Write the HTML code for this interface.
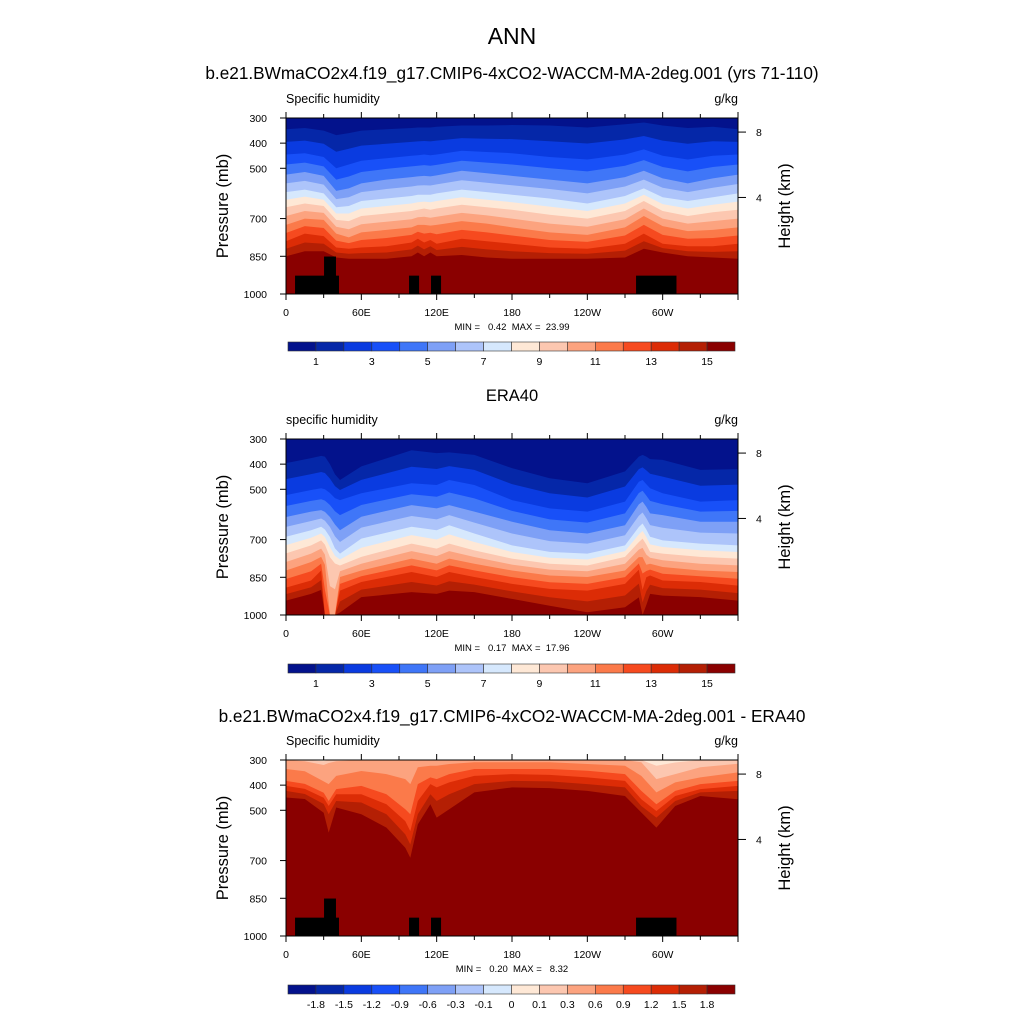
<!DOCTYPE html>
<html><head><meta charset="utf-8"><style>
html,body{margin:0;padding:0;background:#fff;}
svg{display:block;font-family:"Liberation Sans",sans-serif;}
</style></head><body>
<svg id="chart" width="1024" height="1024" viewBox="0 0 1024 1024" xmlns="http://www.w3.org/2000/svg">
<rect x="0" y="0" width="1024" height="1024" fill="#fff"/>
<text x="512" y="44" font-size="23" text-anchor="middle">ANN</text>
<text x="512" y="79" font-size="17.2" text-anchor="middle">b.e21.BWmaCO2x4.f19_g17.CMIP6-4xCO2-WACCM-MA-2deg.001 (yrs 71-110)</text>
<text x="512" y="401" font-size="16.5" text-anchor="middle">ERA40</text>
<text x="512" y="722" font-size="17.2" text-anchor="middle">b.e21.BWmaCO2x4.f19_g17.CMIP6-4xCO2-WACCM-MA-2deg.001 - ERA40</text>
<g id="panels"></g>
</svg>
<script>
// ---- data ----
const colors=["#03128c","#0527a8","#0a3be0","#1850f8","#3f76f8","#7ea0f6","#adc4fa","#d6e8fd","#fee8d6","#fcc7b0","#fca37f","#fb7a4a","#f64a1f","#dc2c06","#b41f04","#8a0000"];
const levelLabelsQ=["1","","3","","5","","7","","9","","11","","13","","15"];
const levelLabelsD=["-1.8","-1.5","-1.2","-0.9","-0.6","-0.3","-0.1","0","0.1","0.3","0.6","0.9","1.2","1.5","1.8"];
const lonTicks=[0,60,120,180,240,300];
const lonTickLabels=["0","60E","120E","180","120W","60W"];
const presTicks=[300,400,500,700,850,1000];
const heightTicksKm=[8,4];
const heightTickP=[356,616];

// Panel 1 (model) boundary pressures, odd levels + 15
const LON1=[0,15,30,40,50,60,80,100,105,110,115,120,140,160,180,210,240,270,285,300,320,340,360];
const P1_K1=[345,340,350,368,360,350,345,340,338,338,338,335,330,330,328,330,338,325,318,330,340,335,345];
const P1_K3=[445,440,455,500,485,470,460,450,448,445,448,445,430,435,440,455,465,445,425,450,465,450,445];
const P1_K5=[525,515,530,590,580,560,545,535,532,530,532,528,510,520,530,545,560,535,510,540,560,540,525];
const P1_K7=[595,585,600,655,650,630,620,610,605,605,605,600,585,595,605,620,640,610,580,615,630,615,600];
const P1_K9=[655,640,650,705,710,690,680,670,665,660,665,660,645,655,665,685,700,670,630,670,690,675,665];
const P1_K11=[725,700,705,760,775,755,745,735,725,725,728,725,710,720,735,755,765,735,690,730,750,745,735];
const P1_K13=[790,760,770,815,820,815,810,795,780,795,785,800,780,790,800,815,820,800,760,800,810,810,800];
const P1_K15=[850,830,830,855,860,860,860,850,835,850,835,850,845,855,860,860,860,855,820,835,850,855,860];

// Panel 2 (ERA40)
const LON2=[0,20,28,31,35,39,43,60,100,120,130,150,180,210,240,270,281,284,287,290,300,330,360];
const P2_K1=[396,376,367,370,400,440,463,409,345,356,353,363,416,456,476,429,370,363,370,380,383,423,420];
const P2_K3=[523,503,496,500,515,535,543,516,476,483,463,483,543,576,589,549,470,463,480,496,516,549,543];
const P2_K5=[610,589,583,590,610,640,663,609,563,576,563,589,629,663,676,643,560,549,570,596,603,629,629];
const P2_K7=[689,663,649,660,690,735,756,696,649,663,643,676,723,749,756,723,650,636,660,689,703,716,723];
const P2_K9=[755,723,703,720,770,795,803,769,716,736,716,743,776,796,803,769,710,696,720,749,756,769,776];
const P2_K11=[823,789,769,800,1000,1000,849,823,776,796,776,796,823,843,849,823,770,770,800,796,809,823,829];
const P2_K13=[891,863,823,1000,1000,1000,903,869,829,849,829,849,876,896,903,876,820,900,850,843,863,869,883];
const P2_K15=[943,916,900,1000,1000,1000,990,929,909,916,903,909,936,963,989,969,930,1000,960,916,923,929,943];

// Panel 3 (difference), levels 9..15
const LON3=[0,15,30,34,40,60,80,95,99,105,115,120,130,150,180,210,240,270,283,295,310,330,360];
const P3_K9=[300,300,305,300,300,300,300,300,300,300,300,300,300,300,300,300,300,300,300,323,310,300,300];
const P3_K10=[300,305,320,312,305,300,300,300,300,300,300,300,300,300,300,300,300,300,309,376,356,329,315];
const P3_K11=[336,345,385,396,363,344,356,376,396,329,323,323,316,309,309,309,316,323,363,429,389,369,349];
const P3_K12=[383,395,430,463,416,403,436,496,516,396,369,376,356,336,336,336,343,356,423,476,423,396,383];
const P3_K13=[403,415,450,483,436,436,476,543,583,463,396,409,389,363,356,359,369,383,456,503,443,416,403];
const P3_K14=[423,435,475,516,463,469,516,596,636,516,436,463,436,396,383,385,396,409,483,529,463,429,423];
const P3_K15=[449,455,510,589,489,516,569,649,689,556,476,529,496,429,409,412,423,443,509,569,483,443,456];

// Terrain mask (black boxes)
const terrainLonStart=[7.2,30.3,98,115.5,278.8];
const terrainLonEnd=[42.2,39.8,106,123.5,311];
const terrainTopP=[927,851,927,927,927];

// ---- drawing ----
const NS="http://www.w3.org/2000/svg";
const root=document.getElementById('panels');
const PX=286,PW=452,PH=176;
function mk(tag,attrs,parent){const e=document.createElementNS(NS,tag);for(const k in attrs)e.setAttribute(k,attrs[k]);(parent||root).appendChild(e);return e;}
function avg(a,b){return a.map((v,i)=>(v+b[i])/2);}
function buildOdd(k1,k3,k5,k7,k9,k11,k13,k15){
  const b={1:k1,3:k3,5:k5,7:k7,9:k9,11:k11,13:k13,15:k15};
  for(let k=2;k<=14;k+=2)b[k]=avg(b[k-1],b[k+1]);
  return b;
}
const panels=[
 {top:118,lon:LON1,b:buildOdd(P1_K1,P1_K3,P1_K5,P1_K7,P1_K9,P1_K11,P1_K13,P1_K15),terrain:true,left:"Specific humidity",minmax:"MIN =   0.42  MAX =  23.99",cb:342,labels:levelLabelsQ,name:"model"},
 {top:439,lon:LON2,b:buildOdd(P2_K1,P2_K3,P2_K5,P2_K7,P2_K9,P2_K11,P2_K13,P2_K15),terrain:false,left:"specific humidity",minmax:"MIN =   0.17  MAX =  17.96",cb:664,labels:levelLabelsQ,name:"era40"},
 {top:760,lon:LON3,b:{9:P3_K9,10:P3_K10,11:P3_K11,12:P3_K12,13:P3_K13,14:P3_K14,15:P3_K15},terrain:true,left:"Specific humidity",minmax:"MIN =   0.20  MAX =   8.32",cb:985,labels:levelLabelsD,name:"difference"}
];
panels.forEach((P,pi)=>{
  const Y0=P.top;
  const x=l=>PX+l/360*PW;
  const y=p=>Y0+(Math.min(Math.max(p,300),1000)-300)/700*PH;
  const g=mk('g',{});
  
  
  const clipId='clip'+pi;
  const cp=mk('clipPath',{id:clipId},g);
  mk('rect',{x:PX,y:Y0,width:PW,height:PH},cp);
  const plot=mk('g',{'clip-path':'url(#'+clipId+')'},g);
  const bg=mk('rect',{x:PX,y:Y0,width:PW,height:PH,fill:colors[15]},plot);
  
  
  for(let k=15;k>=1;k--){
    const arr=P.b[k]; if(!arr)continue;
    let d='M'+x(0)+','+(Y0-1);
    P.lon.forEach((l,i)=>{d+=' L'+x(l).toFixed(2)+','+y(arr[i]).toFixed(2);});
    d+=' L'+x(360)+','+(Y0-1)+' Z';
    const path=mk('path',{d:d,fill:colors[k-1]},plot);
    
    
  }
  if(P.terrain){
    terrainLonStart.forEach((s,i)=>{
      const r=mk('rect',{x:x(s),y:y(terrainTopP[i]),width:x(terrainLonEnd[i])-x(s),height:Y0+PH-y(terrainTopP[i]),fill:'#000'},plot);
      
      
    });
  }
  const fr=mk('rect',{x:PX,y:Y0,width:PW,height:PH,fill:'none',stroke:'#000','stroke-width':1},g);
  
  
  for(let l=0;l<=360;l+=30){
    const len=(l%60===0)?6:4;
    mk('line',{x1:x(l),x2:x(l),y1:Y0+PH,y2:Y0+PH+len,stroke:'#000','stroke-width':1},g);
    mk('line',{x1:x(l),x2:x(l),y1:Y0,y2:Y0-len,stroke:'#000','stroke-width':1},g);
  }
  lonTicks.forEach((l,i)=>{
    const t=mk('text',{x:x(l),y:Y0+PH+22,'font-size':10.5,'text-anchor':'middle'},g);
    t.textContent=lonTickLabels[i];
    
    
  });
  presTicks.forEach(p=>{
    mk('line',{x1:PX-6,x2:PX,y1:y(p),y2:y(p),stroke:'#000','stroke-width':1},g);
    const t=mk('text',{x:PX-19,y:y(p)+4,'font-size':10.5,'text-anchor':'end'},g);
    t.textContent=p;
    
    
  });
  heightTicksKm.forEach((h,i)=>{
    mk('line',{x1:PX+PW,x2:PX+PW+8,y1:y(heightTickP[i]),y2:y(heightTickP[i]),stroke:'#000','stroke-width':1},g);
    const t=mk('text',{x:PX+PW+18,y:y(heightTickP[i])+4,'font-size':10.5},g);
    t.textContent=h;
    
    
  });
  const yl=mk('text',{x:0,y:0,'font-size':16.5,'text-anchor':'middle',transform:'translate(228,'+(Y0+PH/2)+') rotate(-90)'},g);
  yl.textContent='Pressure (mb)';
  
  
  const hl=mk('text',{x:0,y:0,'font-size':16.5,'text-anchor':'middle',transform:'translate(790,'+(Y0+PH/2)+') rotate(-90)'},g);
  hl.textContent='Height (km)';
  
  
  const lt=mk('text',{x:PX,y:Y0-15,'font-size':12.5},g);
  lt.textContent=P.left;
  
  
  const ut=mk('text',{x:PX+PW,y:Y0-15,'font-size':12.5,'text-anchor':'end'},g);
  ut.textContent='g/kg';
  
  
  const mm=mk('text',{x:512,y:Y0+PH+36,'font-size':9.5,'text-anchor':'middle',style:'white-space:pre'},g);
  mm.textContent=P.minmax;
  
  
  const cbg=mk('g',{},g);
  
  
  const cx0=288,cw=447/16,ch=9;
  colors.forEach((c,i)=>{
    const r=mk('rect',{x:cx0+i*cw,y:P.cb,width:cw,height:ch,fill:c,stroke:'#333','stroke-width':0.6},cbg);
    
    
  });
  P.labels.forEach((lb,i)=>{
    if(!lb)return;
    const t=mk('text',{x:cx0+(i+1)*cw,y:P.cb+ch+14,'font-size':10.5,'text-anchor':'middle'},cbg);
    t.textContent=lb;
    
    
  });
});
</script>
</body></html>
